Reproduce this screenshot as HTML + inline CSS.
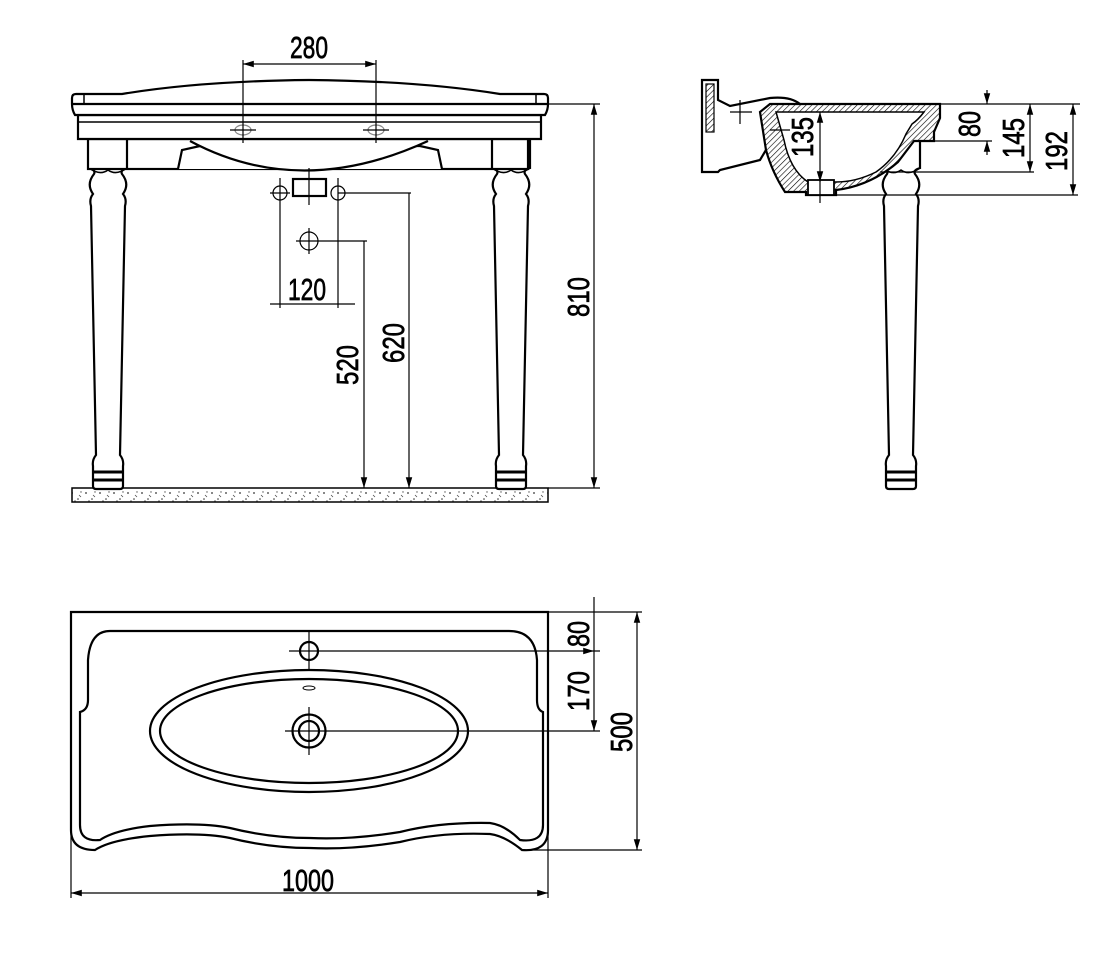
<!DOCTYPE html>
<html><head><meta charset="utf-8"><style>
html,body{margin:0;padding:0;background:#fff;}
svg{display:block}
text{font-family:"Liberation Sans",sans-serif;font-size:31px;fill:#000;stroke:#000;stroke-width:0.7;}
</style></head><body>
<svg width="1106" height="960" viewBox="0 0 1106 960" xmlns="http://www.w3.org/2000/svg">
<defs>
<marker id="a" viewBox="0 0 10 10" refX="10" refY="5" markerWidth="9" markerHeight="9" orient="auto-start-reverse"><path d="M0,2 L10,5 L0,8 z" fill="#000"/></marker>
<pattern id="sp" width="14" height="14" patternUnits="userSpaceOnUse"><rect width="14" height="14" fill="#fff"/><circle cx="2" cy="3" r="0.9" fill="#333"/><circle cx="8" cy="9" r="0.8" fill="#333"/><circle cx="11" cy="2" r="0.7" fill="#555"/><circle cx="5" cy="11" r="0.7" fill="#555"/><path d="M9,5 l2,2" stroke="#444" stroke-width="0.7"/></pattern>
<pattern id="ht" width="4" height="4" patternUnits="userSpaceOnUse" patternTransform="rotate(45)"><rect width="4" height="4" fill="#fff"/><line x1="0" y1="0" x2="0" y2="4" stroke="#000" stroke-width="1.2"/></pattern>
<g id="leg" fill="#fff" stroke="#000" stroke-width="2.2">
<path d="M-19,140 L19,140 L19,168 Q12,170 14,174 Q22,184 15,194 Q19,199 17,206 L12,455 Q16,460 15,466 L15,486 Q15,489 12,489 L-12,489 Q-15,489 -15,486 L-15,466 Q-16,460 -12,455 L-17,206 Q-19,199 -15,194 Q-22,184 -14,174 Q-12,170 -19,168 Z"/>
<line x1="-15" y1="472" x2="15" y2="472" stroke-width="3"/><line x1="-15" y1="480" x2="15" y2="480" stroke-width="3"/>
<path d="M-19,168 Q-8,176 0,170 Q8,176 19,168" fill="none" stroke-width="1.5"/>
</g>
</defs>

<!-- FRONT VIEW -->
<g stroke="#000" fill="none" stroke-width="2.2">
<rect x="72" y="488" width="476" height="14" fill="url(#sp)" stroke-width="1.5"/>
<use href="#leg" x="108"/>
<use href="#leg" x="511"/>
<rect x="88" y="139" width="440" height="30" fill="#fff"/>
<line x1="127" y1="139" x2="127" y2="169"/><line x1="492" y1="139" x2="492" y2="169"/>
<path d="M178,169 L182,150 L200,146 L420,146 L438,150 L442,169" fill="#fff"/>
<path d="M190,141 Q300,200 428,141" fill="#fff"/>
<rect x="293" y="179" width="33" height="17" fill="#fff"/>
<path d="M78,139 L78,115 L541,115 L541,139 Z" fill="#fff"/>
<line x1="78" y1="122" x2="541" y2="122" stroke-width="1.5"/>
<path d="M75,115 Q72,110 72,104 L72,98 Q72,94 76,94 L122,94 Q200,81 309,80 Q420,81 500,94 L544,94 Q548,94 548,98 L548,104 Q548,110 545,115 Z" fill="#fff"/>
<line x1="72" y1="104" x2="548" y2="104"/>
<line x1="84" y1="104" x2="84" y2="95" stroke-width="1.5"/><line x1="536" y1="104" x2="536" y2="95" stroke-width="1.5"/>
</g>
<g stroke="#000" fill="none" stroke-width="1.2">
<ellipse cx="243" cy="130" rx="8" ry="5" stroke="#888"/><ellipse cx="376" cy="130" rx="8" ry="5" stroke="#888"/>
<line x1="230" y1="130" x2="256" y2="130"/><line x1="363" y1="130" x2="389" y2="130"/>
<line x1="243" y1="60" x2="243" y2="143"/><line x1="376" y1="60" x2="376" y2="143"/>
<line x1="243" y1="64" x2="376" y2="64" marker-start="url(#a)" marker-end="url(#a)"/>
<line x1="309" y1="168" x2="309" y2="205"/>
<circle cx="280" cy="193" r="7"/><circle cx="338" cy="193" r="7"/>
<line x1="270" y1="193" x2="290" y2="193"/><line x1="338" y1="193" x2="411" y2="193"/>
<line x1="280" y1="178" x2="280" y2="308"/><line x1="338" y1="178" x2="338" y2="308"/>
<line x1="270" y1="304" x2="355" y2="304"/>
<circle cx="309" cy="241" r="9"/><line x1="296" y1="241" x2="367" y2="241"/><line x1="309" y1="228" x2="309" y2="254"/>
<line x1="364" y1="241" x2="364" y2="488" marker-end="url(#a)"/>
<line x1="409" y1="193" x2="409" y2="488" marker-end="url(#a)"/>
<line x1="548" y1="104" x2="600" y2="104"/><line x1="548" y1="488" x2="600" y2="488"/>
<line x1="594" y1="104" x2="594" y2="488" marker-start="url(#a)" marker-end="url(#a)"/>
</g>
<text x="309" y="58" text-anchor="middle" textLength="38" lengthAdjust="spacingAndGlyphs">280</text>
<text x="307" y="300" text-anchor="middle" textLength="38" lengthAdjust="spacingAndGlyphs">120</text>
<text transform="translate(358,365) rotate(-90)" text-anchor="middle" textLength="40" lengthAdjust="spacingAndGlyphs">520</text>
<text transform="translate(404,343) rotate(-90)" text-anchor="middle" textLength="40" lengthAdjust="spacingAndGlyphs">620</text>
<text transform="translate(589,297) rotate(-90)" text-anchor="middle" textLength="40" lengthAdjust="spacingAndGlyphs">810</text>

<!-- SIDE VIEW -->
<g stroke="#000" fill="none" stroke-width="2.2">
<use href="#leg" x="901"/>
<!-- wall bracket -->
<path d="M702,80 L718,80 L718,100 L730,106 L770,98 Q790,96 800,104 L770,110 L766,150 L760,160 L720,170 L718,172 L702,172 Z" fill="#fff"/>
<rect x="706" y="84" width="8" height="48" fill="url(#ht)" stroke-width="1.2"/>
<!-- basin -->
<path d="M770,104 L940,104 L940,118 L934,132 L934,141 L914,141 L898,162 Q870,186 836,190 L836,195 L806,195 L806,192 L785,192 Q772,172 766,150 L760,112 Z" fill="url(#ht)"/>
<path d="M776,112 L924,112 Q918,120 912,124 L906,134 Q896,158 876,172 Q856,182 836,182 L808,182 Q790,170 784,140 Z" fill="#fff" stroke-width="1.5"/>
<rect x="808" y="180" width="26" height="15" fill="#fff" stroke-width="1.8"/>
</g>
<g stroke="#000" fill="none" stroke-width="1.2">
<line x1="740" y1="100" x2="740" y2="124"/><line x1="730" y1="112" x2="752" y2="112"/>
<line x1="770" y1="130" x2="790" y2="130"/>
<line x1="820" y1="180" x2="820" y2="203"/>
<line x1="820" y1="112" x2="820" y2="182" marker-start="url(#a)" marker-end="url(#a)"/>
<line x1="940" y1="104" x2="1080" y2="104"/>
<line x1="934" y1="141" x2="992" y2="141"/>
<line x1="880" y1="172" x2="1034" y2="172"/>
<line x1="836" y1="195" x2="1078" y2="195"/>
<line x1="987" y1="90" x2="987" y2="104" marker-end="url(#a)"/><line x1="987" y1="155" x2="987" y2="141" marker-end="url(#a)"/>
<line x1="1030" y1="104" x2="1030" y2="172" marker-start="url(#a)" marker-end="url(#a)"/>
<line x1="1073" y1="104" x2="1073" y2="195" marker-start="url(#a)" marker-end="url(#a)"/>
</g>
<text transform="translate(813,137) rotate(-90)" text-anchor="middle" textLength="40" lengthAdjust="spacingAndGlyphs" style="fill:#000">135</text>
<text transform="translate(980,124) rotate(-90)" text-anchor="middle" textLength="26" lengthAdjust="spacingAndGlyphs">80</text>
<text transform="translate(1024,138) rotate(-90)" text-anchor="middle" textLength="40" lengthAdjust="spacingAndGlyphs">145</text>
<text transform="translate(1067,151) rotate(-90)" text-anchor="middle" textLength="40" lengthAdjust="spacingAndGlyphs">192</text>

<!-- PLAN VIEW -->
<g stroke="#000" fill="none" stroke-width="2.2">
<path d="M71,612 L548,612 L548,830 Q548,852 522,850 Q505,836 490,834 Q440,832 400,842 Q350,850 310,848 Q270,848 230,838 Q200,832 150,836 Q110,840 95,850 Q71,850 71,830 Z"/>
<path d="M110,631 L509,631 Q535,631 537,660 L537,700 Q537,710 543,712 L543,825 Q543,843 520,840 Q505,825 490,823 Q440,822 400,832 Q350,840 310,838 Q270,838 230,828 Q200,822 150,826 Q115,830 100,840 Q80,842 80,825 L80,712 Q88,710 88,700 L88,660 Q90,631 110,631 Z"/>
<ellipse cx="309" cy="731" rx="159" ry="61"/>
<ellipse cx="309" cy="731" rx="149" ry="52"/>
<circle cx="309" cy="651" r="9"/>
<circle cx="309" cy="731" r="16.5"/><circle cx="309" cy="731" r="10"/>
<ellipse cx="309" cy="688" rx="6" ry="2" stroke-width="1"/>
</g>
<g stroke="#000" fill="none" stroke-width="1.2">
<line x1="309" y1="632" x2="309" y2="669"/><line x1="289" y1="651" x2="600" y2="651"/>
<line x1="309" y1="707" x2="309" y2="755"/><line x1="285" y1="731" x2="600" y2="731"/>
<line x1="548" y1="612" x2="642" y2="612"/><line x1="525" y1="850" x2="642" y2="850"/>
<line x1="594" y1="597" x2="594" y2="731" marker-end="url(#a)"/>
<line x1="594" y1="651" x2="594" y2="651" marker-end="url(#a)"/>
<line x1="637" y1="612" x2="637" y2="850" marker-start="url(#a)" marker-end="url(#a)"/>
<line x1="71" y1="830" x2="71" y2="898"/><line x1="548" y1="830" x2="548" y2="898"/>
<line x1="71" y1="893" x2="548" y2="893" marker-start="url(#a)" marker-end="url(#a)"/>
</g>
<text transform="translate(589,634) rotate(-90)" text-anchor="middle" textLength="26" lengthAdjust="spacingAndGlyphs">80</text>
<text transform="translate(589,691) rotate(-90)" text-anchor="middle" textLength="40" lengthAdjust="spacingAndGlyphs">170</text>
<text transform="translate(632,732) rotate(-90)" text-anchor="middle" textLength="40" lengthAdjust="spacingAndGlyphs">500</text>
<text x="308" y="891" text-anchor="middle" textLength="52" lengthAdjust="spacingAndGlyphs">1000</text>
</svg>
</body></html>
